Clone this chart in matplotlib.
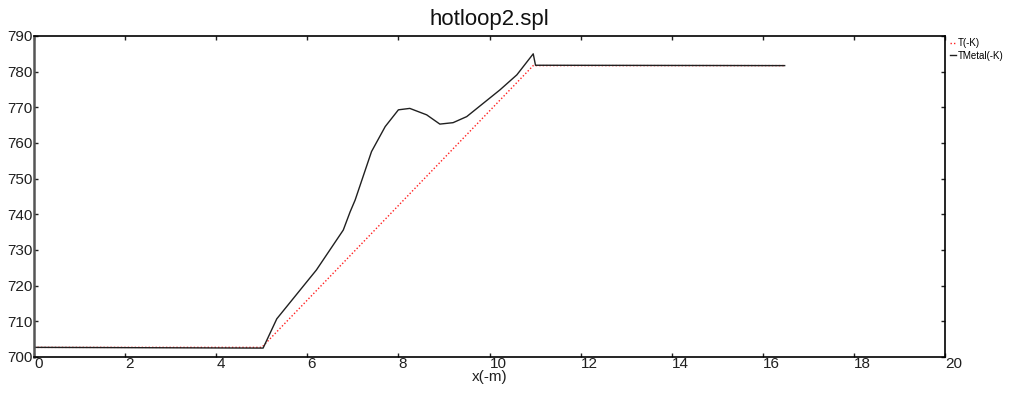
import matplotlib
matplotlib.use("Agg")
import matplotlib.pyplot as plt

plt.rcParams['font.family'] = ['Liberation Sans', 'DejaVu Sans']

# Fluid temperature along the loop
x_t = [0.0, 5.0, 10.96, 16.48]
t_fluid = [702.7, 702.7, 781.7, 781.7]

# Metal wall temperature along the loop
x_m = [0.0, 5.03, 5.33, 5.99, 6.2, 6.79, 6.94, 7.05, 7.41, 7.71, 8.0, 8.25,
       8.62, 8.91, 9.2, 9.5, 9.86, 10.23, 10.6, 10.96, 11.01, 16.48]
t_metal = [702.7, 702.5, 710.7, 721.1, 724.4, 735.6, 740.7, 744.0, 757.6,
           764.6, 769.3, 769.7, 767.9, 765.3, 765.7, 767.4, 771.1, 774.9,
           779.1, 785.0, 781.8, 781.7]

series_labels = ['T(-K)', 'TMetal(-K)']
x_ticks = [0, 2, 4, 6, 8, 10, 12, 14, 16, 18, 20]
y_ticks = [700, 710, 720, 730, 740, 750, 760, 770, 780, 790]

fig = plt.figure(figsize=(10.16, 3.93), dpi=100)
ax = fig.add_axes([34 / 1016, 1 - 357 / 393, (945 - 34) / 1016, (357 - 36) / 393])

ax.plot(x_t, t_fluid, color='#ff2020', linestyle=(0, (1, 1.5)), linewidth=1.0,
        label=series_labels[0])
ax.plot(x_m, t_metal, color='#202020', linewidth=1.0, label=series_labels[1])

ax.set_xlim(0, 20)
ax.set_ylim(700, 790)
ax.set_xticks(x_ticks)
ax.set_yticks(y_ticks)
ax.tick_params(axis='both', direction='in', length=3, width=1, labelsize=11,
               top=True, right=True, colors='#202020')
ax.tick_params(axis='x', pad=0)
ax.tick_params(axis='y', pad=1)
for lbl in ax.get_xticklabels():
    lbl.set_horizontalalignment('left')

for side in ['top', 'right', 'bottom']:
    ax.spines[side].set_color('black')
    ax.spines[side].set_linewidth(1.2)
ax.spines['left'].set_color('#555555')
ax.spines['left'].set_linewidth(1.8)

ax.set_title('hotloop2.spl', fontsize=16, pad=8, color='#111111')
ax.set_xlabel('x(-m)', fontsize=11, labelpad=-1, color='#202020')

ax.legend(loc='upper left', bbox_to_anchor=(1.003, 1.0), frameon=False,
          fontsize=7, handlelength=0.7, handletextpad=0.15, borderpad=0.2,
          labelspacing=0.3, borderaxespad=0.0)

fig.savefig('out.png', dpi=100)
